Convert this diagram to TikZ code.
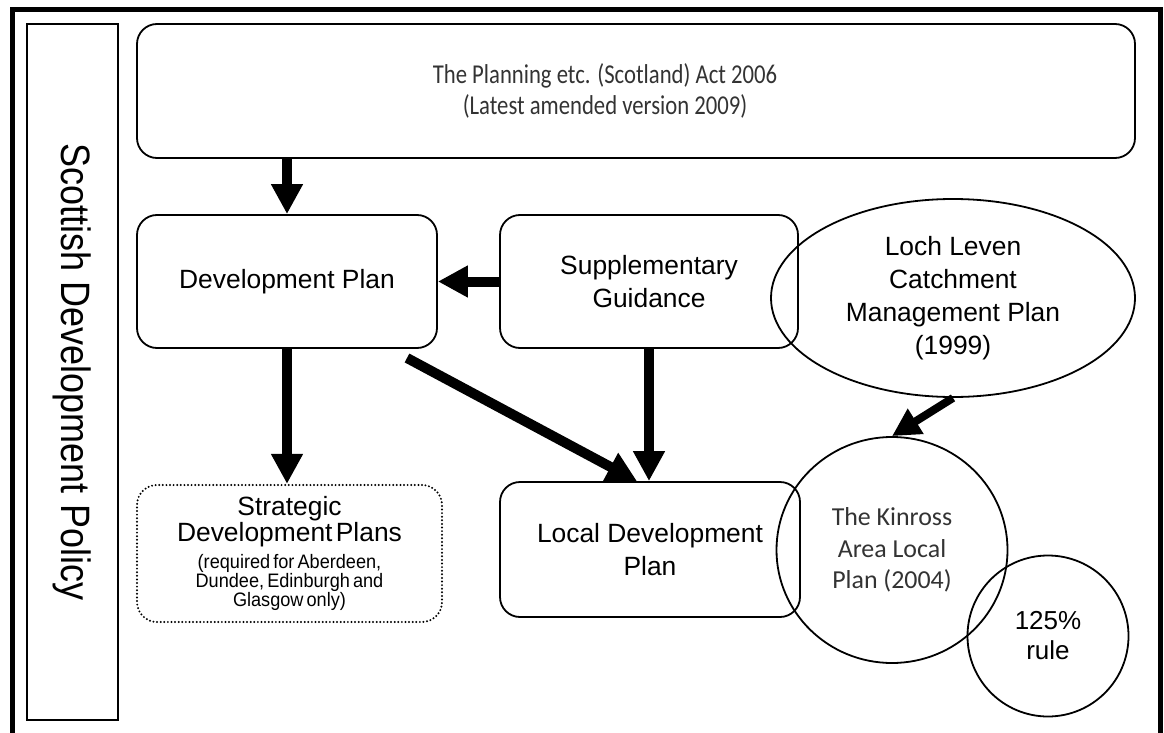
\documentclass[tikz,border=0pt]{standalone}
\usepackage{fontspec}
\usepackage{graphicx}
\setmainfont{Liberation Sans}
\newfontfamily\calibri{Carlito}
\usetikzlibrary{arrows.meta,shapes.geometric}
\definecolor{softtext}{HTML}{333333}
\newcommand{\narrowline}[1]{\scalebox{0.93}[1]{#1}}
\begin{document}
\begin{tikzpicture}[x=1pt,y=-1pt,
  box/.style={draw, line width=1.8pt, rounded corners=20pt, inner sep=0pt, align=center,
    font=\fontsize{26.4}{33}\selectfont},
  oval/.style={draw, ellipse, line width=1.8pt, inner sep=0pt, align=center,
    font=\fontsize{26.4}{33}\selectfont},
  bigarrow/.style={line width=10pt, -{Triangle[length=30pt,width=30pt]}},
]
\useasboundingbox (0,0) rectangle (1164,733);
% outer frame (bottom edge lies outside the picture)
\draw[line width=5pt] (12.5,733) -- (12.5,9.5) -- (1160.5,9.5) -- (1160.5,733);

% left title box
\node[draw, line width=1.8pt, rotate=-90, minimum width=696pt, minimum height=91pt, inner sep=0pt,
  font=\fontsize{36}{40}\selectfont] (policy) at (72.5,372)
  {\scalebox{1}[1.14]{Scottish Development Policy}};

% top box
\node[box, minimum width=998pt, minimum height=134pt] (act) at (636,91) {};
\node[inner sep=0pt, text=softtext, font=\calibri\fontsize{22.7}{26}\selectfont]
  (acttext) at (605,92.5)
  {\scalebox{1}[1.2]{\begin{tabular}{@{}c@{}}The Planning etc. (Scotland) Act 2006\\[0pt](Latest amended version 2009)\end{tabular}}};

% boxes
\node[box, minimum width=300pt, minimum height=133pt] (dp) at (287,281.5) {Development Plan};
\node[box, minimum width=298pt, minimum height=133pt] (sg) at (649,281.5) {Supplementary\\Guidance};
\node[box, minimum width=300pt, minimum height=135pt] (ldp) at (650,549.5) {Local Development\\Plan};
\node[draw, line width=2.2pt, line cap=round, dash pattern=on 0pt off 3.6pt, rounded corners=20pt,
  inner sep=0pt, minimum width=305pt, minimum height=137pt, text width=300pt, align=center]
  (strat) at (289.5,553.5)
  {{\fontsize{26.4}{26}\selectfont Strategic\\Development Plans\par}\vspace{6pt}%
   {\fontsize{19.5}{17}\selectfont \narrowline{(required for Aberdeen,}\\\narrowline{Dundee, Edinburgh and}\\\narrowline{Glasgow only)}\par}};

% ellipses
\node[oval, minimum width=364pt, minimum height=198pt] (loch) at (953,298)
  {Loch Leven\\Catchment\\Management Plan\\(1999)};
\node[oval, minimum width=231pt, minimum height=226pt, text=softtext,
  font=\calibri\fontsize{25.9}{31.5}\selectfont] (kin) at (892,550)
  {The Kinross\\Area Local\\Plan (2004)};
\node[oval, minimum width=161pt, minimum height=161pt, font=\fontsize{26}{30}\selectfont]
  (rule) at (1048,636) {125\%\\rule};

% connectors
\coordinate (diagstart) at (407,358);
\draw[bigarrow] (dp.north |- act.south) -- (dp.north);
\draw[bigarrow] (sg.west) -- (dp.east);
\draw[bigarrow] (dp.south) -- (dp.south |- strat.north);
\draw[bigarrow] (diagstart) -- ([xshift=-13pt]ldp.north);
\draw[bigarrow] (sg.south) -- (sg.south |- ldp.north);
\draw[line width=8pt, -{Triangle[length=28pt,width=28pt]}] (loch.south) -- (kin.north);
\end{tikzpicture}
\end{document}
